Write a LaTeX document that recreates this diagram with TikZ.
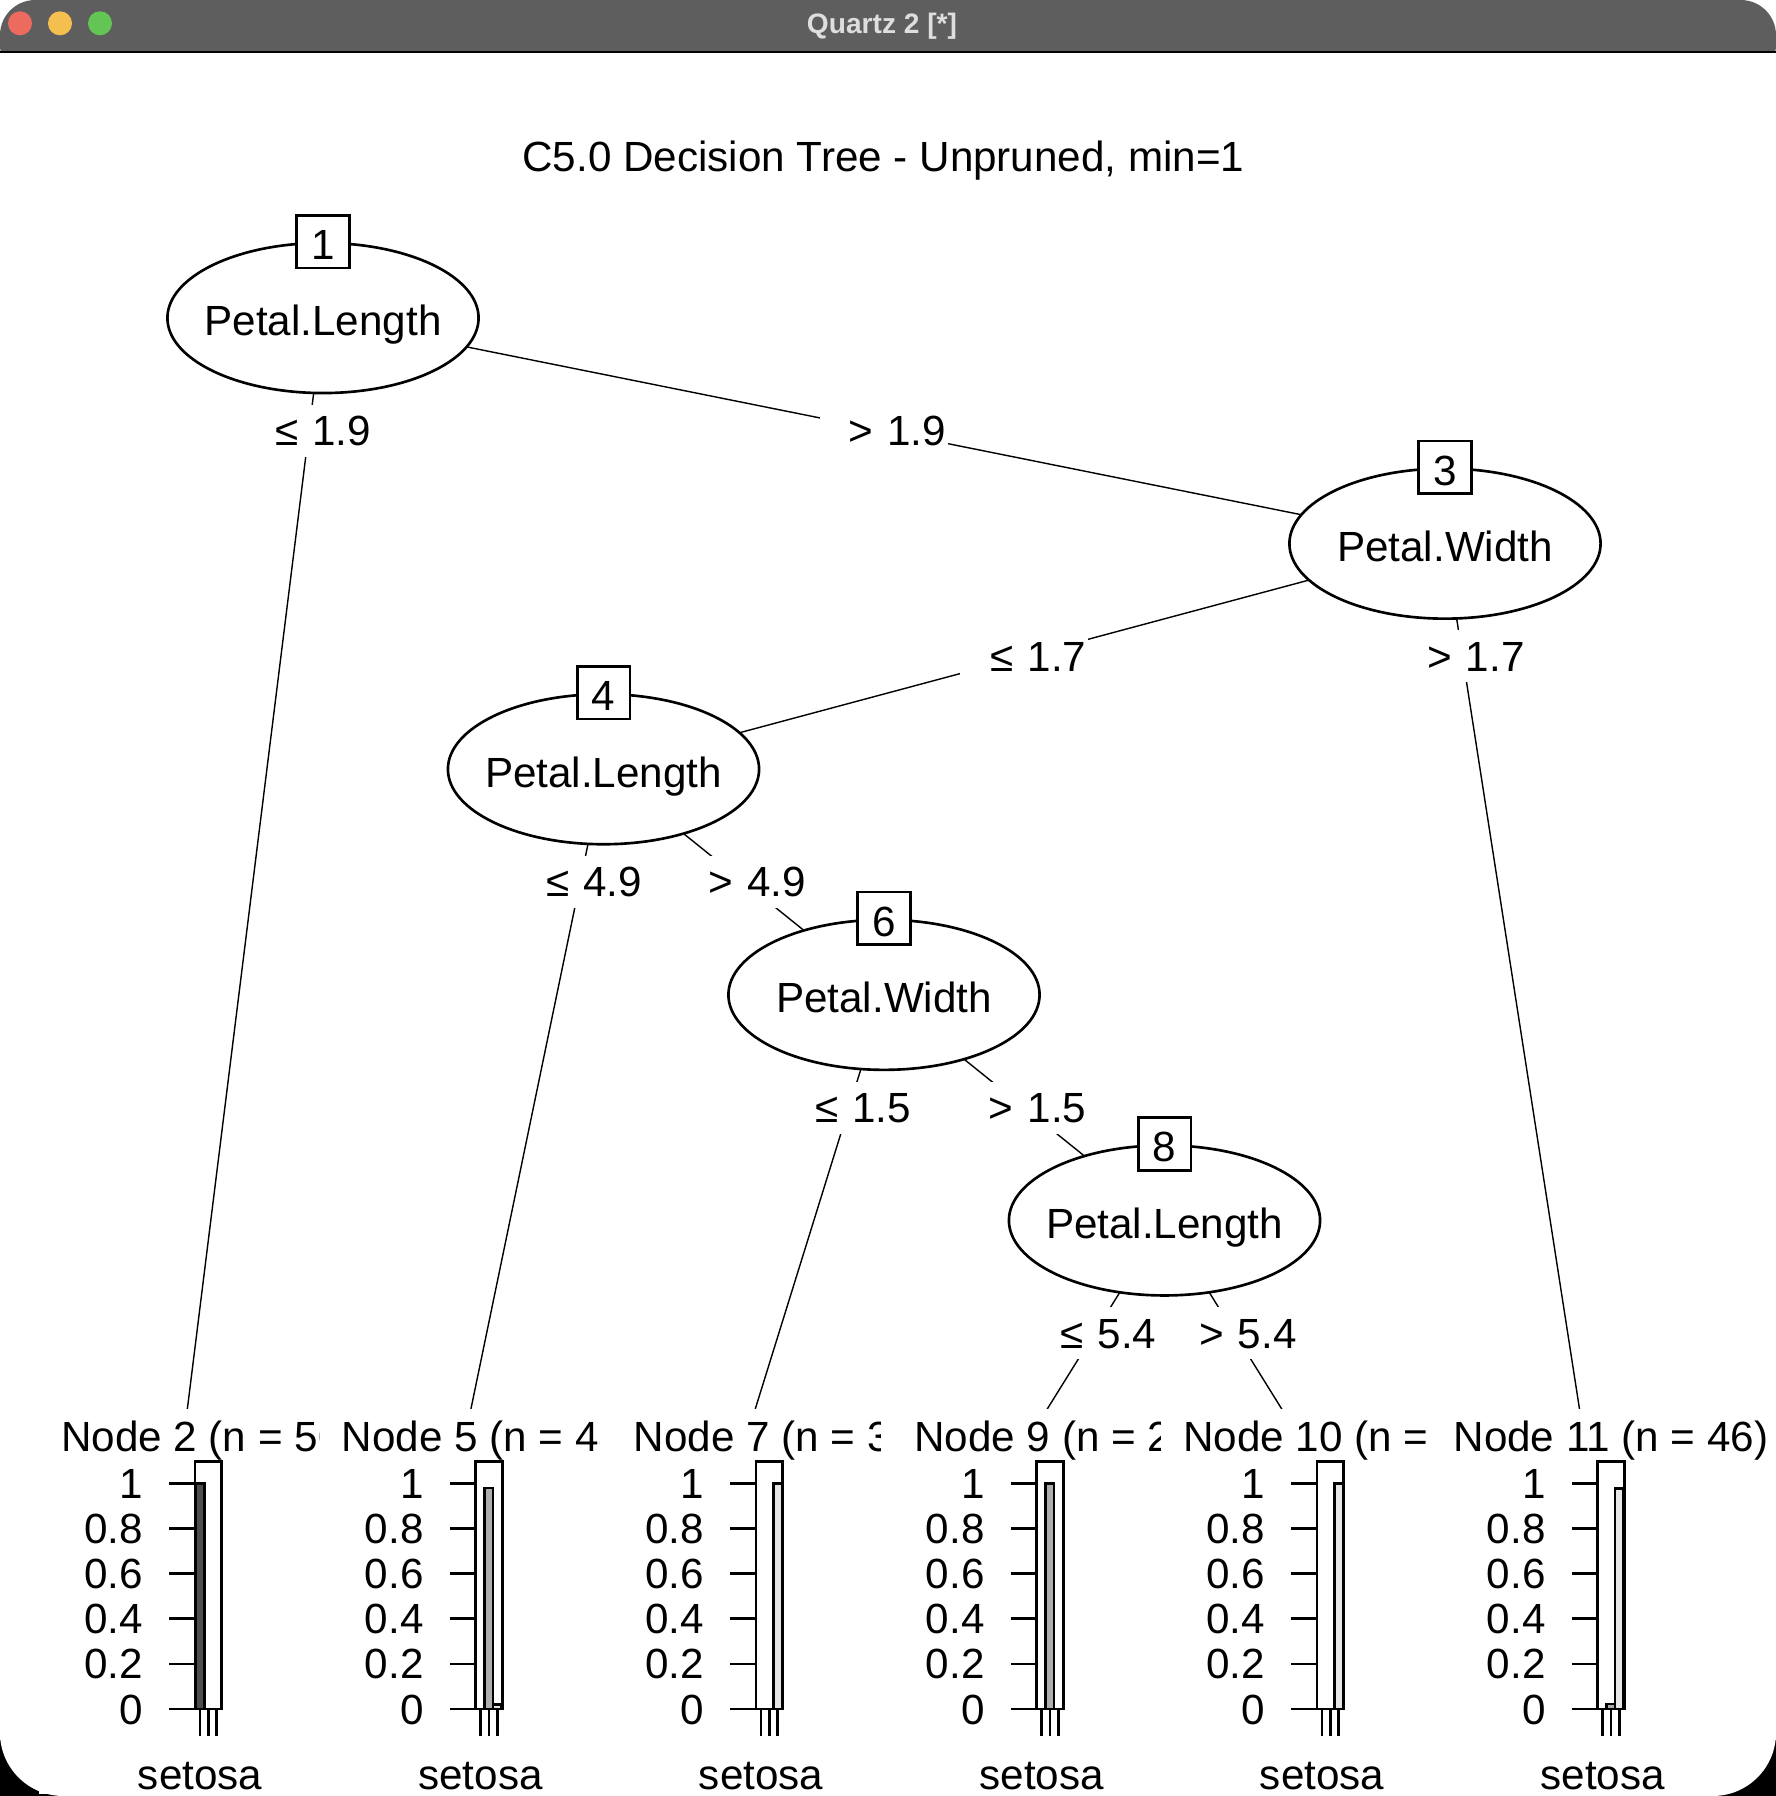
\documentclass[tikz,border=0pt]{standalone}
\usepackage{fontspec}
\setmainfont{Liberation Sans}
\usetikzlibrary{shapes.geometric,backgrounds}

\definecolor{titlegray}{RGB}{94,94,94}
\definecolor{titletext}{RGB}{222,222,222}
\definecolor{macred}{RGB}{237,106,94}
\definecolor{macyellow}{RGB}{245,191,79}
\definecolor{macgreen}{RGB}{98,197,84}
\definecolor{setosagray}{HTML}{4D4D4D}
\definecolor{versigray}{HTML}{AEAEAE}
\definecolor{virgigray}{HTML}{E6E6E6}

\begin{document}
\begin{tikzpicture}[x=0.01cm, y=-0.01cm, line width=0.75pt,
    every node/.style={font=\fontsize{12}{14}\selectfont},
    splitnode/.style={ellipse, draw, fill=white, minimum width=3.11cm,
        minimum height=1.5cm, inner sep=0pt, text height=10.2pt, text depth=0pt},
    idbox/.style={draw, fill=white, minimum size=0.526cm, inner sep=0pt,
        text height=10.2pt, text depth=0pt},
    elab/.style={fill=white, inner xsep=0.02cm, inner ysep=0pt, text width=1.24cm,
        align=right, minimum height=0.52cm, text height=8.5pt, text depth=0pt},
    basetext/.style={anchor=base, inner sep=0pt}]

\useasboundingbox (0,0) rectangle (1776,1796);

%% window
\begin{scope}[on background layer]
\fill[black] (0,1740) rectangle (1776,1796);
\fill[white, rounded corners=18] (0,0) rectangle (1776,1796);
\fill[titlegray, rounded corners=10] (0,0) rectangle (1776,80);
\fill[white] (0,52) rectangle (1776,120);
\draw[line width=0.4pt] (0,52) -- (1776,52);
\fill[macred] (20,23.3) circle [radius=0.12cm];
\fill[macyellow] (60,23.3) circle [radius=0.12cm];
\fill[macgreen] (100,23.3) circle [radius=0.12cm];
\end{scope}
\node (wintitle) [basetext, text=titletext, font=\fontsize{8}{10}\selectfont\bfseries] at (882,33) {Quartz 2 [*]};

%% title
\node (title) [basetext] at (883.5,171.5) {C5.0 Decision Tree - Unpruned, min=1};

%% inner nodes
\node (n1) [splitnode] at (323,318) {\makebox[0pt]{Petal.Length}};      %% 1
\node (n3) [splitnode] at (1445,543.6) {\makebox[0pt]{Petal.Width}};    %% 3
\node (n4) [splitnode] at (603.5,769.2) {\makebox[0pt]{Petal.Length}};  %% 4
\node (n6) [splitnode] at (884,994.8) {\makebox[0pt]{Petal.Width}};     %% 6
\node (n8) [splitnode] at (1164.5,1220.4) {\makebox[0pt]{Petal.Length}}; %% 8

%% node numbers
\node (b1) [idbox] at (n1.north) {1};
\node (b3) [idbox] at (n3.north) {3};
\node (b4) [idbox] at (n4.north) {4};
\node (b6) [idbox] at (n6.north) {6};
\node (b8) [idbox] at (n8.north) {8};

%% terminal nodes
\coordinate (t2) at (182.75,1446);
\coordinate (t5) at (463.25,1446);
\coordinate (t7) at (743.75,1446);
\coordinate (t9) at (1024.25,1446);
\coordinate (t10) at (1304.75,1446);
\coordinate (t11) at (1585.25,1446);

%% edges
\begin{scope}[on background layer]
\draw (n1.center) -- (t2) node (l2) [elab, pos=0.1] {≤ 1.9};        %% 1-2
\draw (n1.center) -- (n3.center) node (l3) [elab, pos=0.5] {> 1.9}; %% 1-3
\draw (n3.center) -- (n4.center) node (l4) [elab, pos=0.5] {≤ 1.7}; %% 3-4
\draw (n3.center) -- (t11) node (l11) [elab, pos=0.125] {> 1.7};    %% 3-11
\draw (n4.center) -- (t5) node (l5) [elab, pos=0.1667] {≤ 4.9};     %% 4-5
\draw (n4.center) -- (n6.center) node (l6) [elab, pos=0.5] {> 4.9}; %% 4-6
\draw (n6.center) -- (t7) node (l7) [elab, pos=0.25] {≤ 1.5};       %% 6-7
\draw (n6.center) -- (n8.center) node (l8) [elab, pos=0.5] {> 1.5}; %% 6-8
\draw (n8.center) -- (t9) node (l9) [elab, pos=0.5] {≤ 5.4};        %% 8-9
\draw (n8.center) -- (t10) node (l10) [elab, pos=0.5] {> 5.4};      %% 8-10
\end{scope}

%% terminal panels: centre / id / n / setosa / versicolor / virginica
\foreach \b/\id/\n/\ps/\pv/\pg in {208.4/2/50/1/0/0, 488.9/5/48/0/0.979/0.021,
    769.4/7/3/0/0/1, 1049.9/9/2/0/1/0, 1330.4/10/1/0/0/1, 1610.9/11/46/0/0.022/0.978} {
  \fill[white] (\b-169,1409) rectangle (\b+108,1794);
  \node (head\id) [basetext] at (\b,1451.7) {Node \id{} (n = \n)};
  \filldraw[fill=setosagray] (\b-12.45,1709) rectangle (\b-4.15,1709-225.7*\ps);
  \filldraw[fill=versigray] (\b-4.15,1709) rectangle (\b+4.15,1709-225.7*\pv);
  \filldraw[fill=virgigray] (\b+4.15,1709) rectangle (\b+12.45,1709-225.7*\pg);
  \draw (\b-13.3,1461.7) rectangle (\b+13.3,1709);
  \foreach \t [count=\k] in {0,0.2,0.4,0.6,0.8,1} {
    \draw (\b-39,1709-225.7*\t) -- (\b-13.3,1709-225.7*\t);
    \node (tick\id-\k) [anchor=base east, inner sep=0pt] at (\b-64,1724-225.7*\t) {\t};
  }
  \foreach \dx in {-8.3,0,8.3}
    \draw (\b+\dx,1709) -- (\b+\dx,1736);
  \node (cls\id) [basetext] at (\b-8.3,1789) {setosa};
}
\end{tikzpicture}
\end{document}
